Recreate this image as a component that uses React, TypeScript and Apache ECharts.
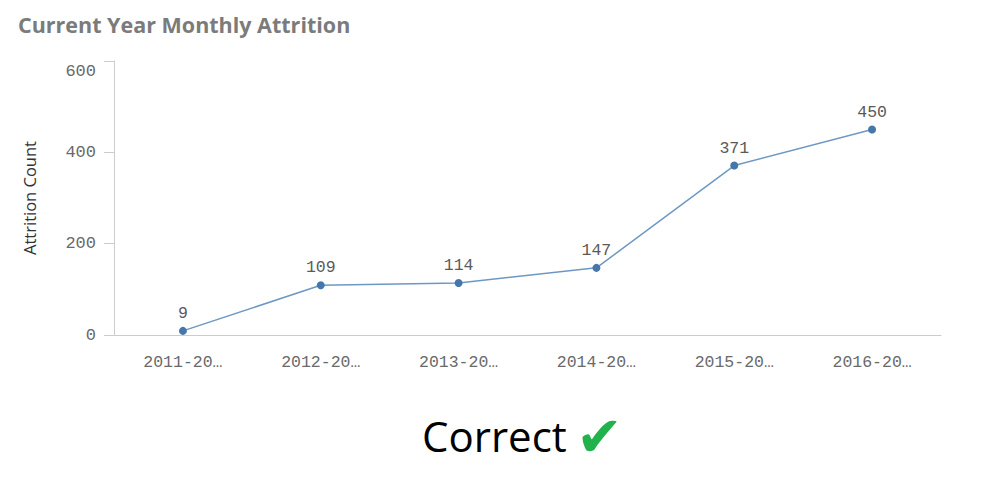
import React, { useEffect, useRef } from "react";
import * as echarts from "echarts";

const categories = ["2011-2012", "2012-2013", "2013-2014", "2014-2015", "2015-2016", "2016-2017"];
const attrition = [9, 109, 114, 147, 371, 450];
const yTicks = [0, 200, 400, 600];

export default function App() {
  const ref = useRef<HTMLDivElement>(null);
  useEffect(() => {
    if (!ref.current) return;
    const chart = echarts.init(ref.current, null, { renderer: "svg" });
    const mono = "'Liberation Mono', monospace";
    const top = yTicks[yTicks.length - 1];
    chart.setOption({
      animation: false,
      title: {
        text: "Current Year Monthly Attrition",
        left: 13,
        top: 8,
        textStyle: { fontFamily: "'Open Sans', sans-serif", fontWeight: "bold", fontSize: 21.5, color: "#7b7b7b" },
      },
      grid: { left: 114, right: 49, top: 61, bottom: 149, containLabel: false },
      xAxis: {
        type: "category",
        data: categories,
        boundaryGap: true,
        axisLine: { lineStyle: { color: "#cccccc", width: 1 } },
        axisTick: { show: false },
        axisLabel: {
          margin: 19,
          fontFamily: mono,
          fontSize: 16.5,
          color: "#6a6a6a",
          formatter: (v: string) => (v.length > 7 ? v.slice(0, 7) + "…" : v),
        },
      },
      yAxis: {
        type: "value",
        min: yTicks[0],
        max: top,
        interval: 200,
        name: "Attrition Count",
        nameLocation: "middle",
        nameGap: 76,
        nameTextStyle: { fontFamily: "'Open Sans', sans-serif", fontSize: 16.5, color: "#333333" },
        axisLine: { show: true, lineStyle: { color: "#cccccc", width: 1 } },
        axisTick: { show: true, length: 10, lineStyle: { color: "#cccccc" } },
        splitLine: { show: false },
        axisLabel: {
          margin: 18,
          fontFamily: mono,
          fontSize: 17,
          color: "#6a6a6a",
          formatter: (v: number) => (v === top ? "{t|" + v + "}" : String(v)),
          rich: { t: { fontFamily: mono, fontSize: 17, color: "#6a6a6a", padding: [20, 0, 0, 0] } },
        },
      },
      series: [
        {
          type: "line",
          data: attrition,
          symbol: "circle",
          symbolSize: 8,
          lineStyle: { color: "#6e98c4", width: 1.5 },
          itemStyle: { color: "#4677ab" },
          label: {
            show: true,
            position: "top",
            distance: 5,
            fontFamily: mono,
            fontSize: 16.5,
            color: "#5a5a5a",
          },
        },
      ],
      graphic: [
        {
          type: "text",
          left: 422,
          top: 414,
          style: { text: "Correct", font: "42px 'Open Sans', sans-serif", fill: "#000000" },
        },
        {
          type: "text",
          left: 576,
          top: 408,
          style: { text: "✔", font: "56px 'DejaVu Sans', sans-serif", fill: "#21b24b" },
        },
      ],
    });
    return () => chart.dispose();
  }, []);
  return <div ref={ref} style={{ width: 990, height: 484, position: "absolute", left: 0, top: 0 }} />;
}
